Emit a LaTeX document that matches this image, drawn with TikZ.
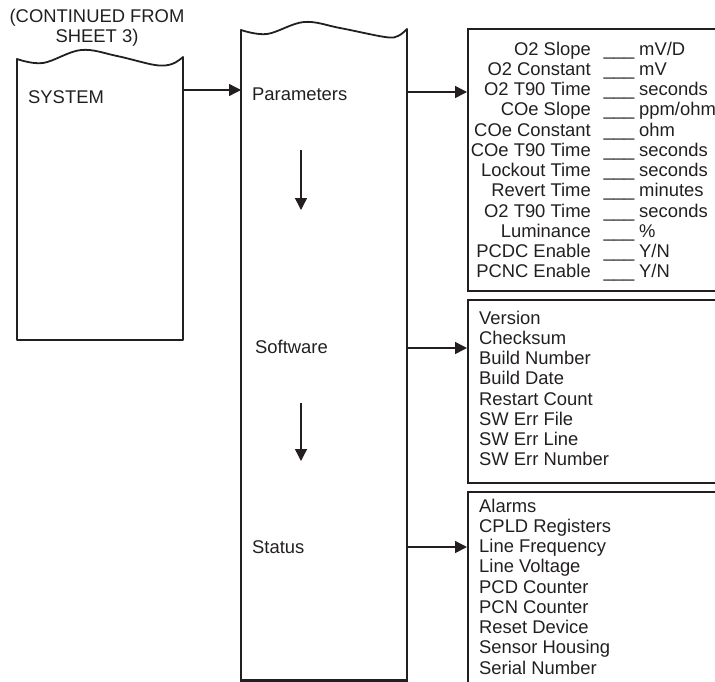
\documentclass[tikz,border=0pt]{standalone}
\usepackage{fontspec}
\setmainfont{Liberation Sans}
\usetikzlibrary{arrows.meta}
\definecolor{ink}{RGB}{35,31,32}
\begin{document}
\begin{tikzpicture}[x=1pt,y=-1pt,
  outline/.style={draw=ink,line width=1.8pt,line join=round},
  listbox/.style={draw=ink,line width=1.6pt,rectangle,inner sep=0pt,anchor=north west},
  conn/.style={draw=ink,line width=1.4pt,-{Triangle[length=12pt,width=12pt]}},
  txt/.style={text=ink,inner sep=0pt,font=\fontsize{18.4}{20.25}\selectfont},
]
\useasboundingbox (0,0) rectangle (715,681);
\clip (0,0) rectangle (715,681);

% header
\node[txt,anchor=north] (hdr) at (97,7.8) {\begin{tabular}{@{}c@{}}(CONTINUED FROM\\SHEET 3)\end{tabular}};

% system box with torn top
\draw[outline] (17,340) -- (17,59) -- plot[smooth,tension=0.6] coordinates {(17,59) (43,63) (81,50) (117,56) (155,65) (172,64) (183,57)} -- (183,340) -- cycle;
\node[txt,anchor=base west] (sysL) at (28,103) {SYSTEM};

% middle box with torn top
\draw[outline] (241,682) -- (241,30) -- plot[smooth,tension=0.6] coordinates {(241,30) (267,34) (304,22) (340,28) (385,37) (398,36) (407,29)} -- (407,682) -- cycle;
\draw[outline] (241,680) -- (407,680);
\node[txt,anchor=base west] (parL) at (252,100) {Parameters};
\node[txt,anchor=base west] (swL) at (255,353) {Software};
\node[txt,anchor=base west] (stL) at (252,553) {Status};

% right boxes
\node[listbox,minimum width=263pt,minimum height=262pt] (b1) at (467,28) {};
\node[listbox,minimum width=263pt,minimum height=183pt] (b2) at (467,299) {};
\node[listbox,minimum width=263pt,minimum height=229pt] (b3) at (467,491) {};

% parameter list
\node[txt,anchor=north east] (p1lab) at (591,40.8) {\begin{tabular}{@{}r@{}}
O2 Slope\\O2 Constant\\O2 T90 Time\\COe Slope\\COe Constant\\COe T90 Time\\Lockout Time\\Revert Time\\O2 T90 Time\\Luminance\\PCDC Enable\\PCNC Enable\end{tabular}};
\node[txt,anchor=north west] (p1blank) at (603.5,40.8) {\begin{tabular}{@{}l@{}}
\_\_\_\\\_\_\_\\\_\_\_\\\_\_\_\\\_\_\_\\\_\_\_\\\_\_\_\\\_\_\_\\\_\_\_\\\_\_\_\\\_\_\_\\\_\_\_\end{tabular}};
\node[txt,anchor=north west] (p1unit) at (639,40.8) {\begin{tabular}{@{}l@{}}
mV/D\\mV\\seconds\\ppm/ohm\\ohm\\seconds\\seconds\\minutes\\seconds\\\%\\Y/N\\Y/N\end{tabular}};

% software list
\node[txt,anchor=north west] (swlist) at (479,309.8) {\begin{tabular}{@{}l@{}}
Version\\Checksum\\Build Number\\Build Date\\Restart Count\\SW Err File\\SW Err Line\\SW Err Number\end{tabular}};

% status list
\node[txt,anchor=north west] (stlist) at (479,497.8) {\begin{tabular}{@{}l@{}}
Alarms\\CPLD Registers\\Line Frequency\\Line Voltage\\PCD Counter\\PCN Counter\\Reset Device\\Sensor Housing\\Serial Number\end{tabular}};

% connectors
\coordinate (sysR) at (183,90);
\coordinate (midL) at (241,90);
\coordinate (midR1) at (407,92);
\coordinate (midR2) at (407,348);
\coordinate (midR3) at (407,547);
\draw[conn] (sysR) -- (midL);
\draw[conn] (midR1) -- (midR1 -| b1.west);
\draw[conn] (midR2) -- (midR2 -| b2.west);
\draw[conn] (midR3) -- (midR3 -| b3.west);

\coordinate (d1a) at (301,150);
\coordinate (d1b) at (301,210);
\coordinate (d2a) at (301,403);
\coordinate (d2b) at (301,461);
\draw[conn] (d1a) -- (d1b);
\draw[conn] (d2a) -- (d2b);
\end{tikzpicture}
\end{document}
